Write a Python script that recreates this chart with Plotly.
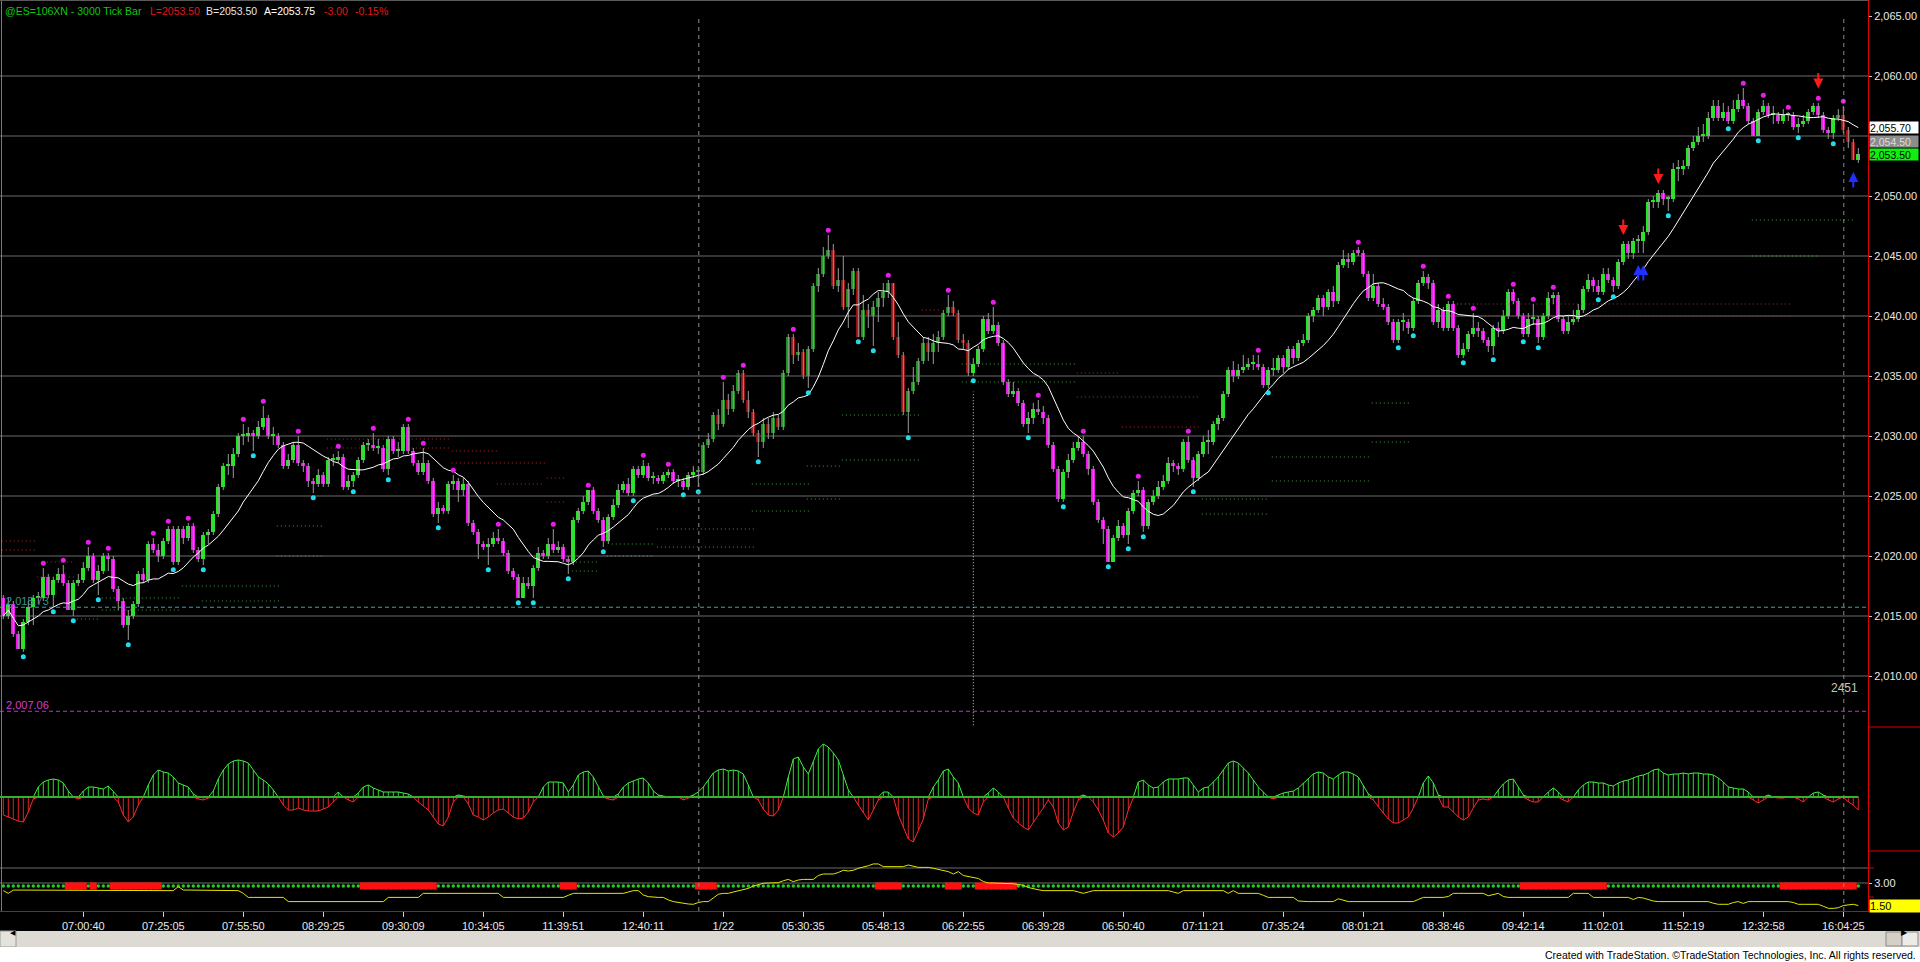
import pandas as pd
import plotly.graph_objects as go

W, H = 1920, 962
AXIS_X = 1868          # pixel column where the right price scale begins

# ---------------- price bars (3000 tick bars, oldest first) ----------------
bar_open = [
    2016.5, 2015.0, 2016.0, 2013.5, 2012.25, 2014.5, 2015.75, 2016.5, 2016.5, 2018.25,
    2016.75, 2018.0, 2018.5, 2017.75, 2015.5, 2017.75, 2018.0, 2019.0, 2020.0, 2018.0,
    2018.75, 2020.0, 2019.75, 2017.25, 2016.25, 2014.25, 2015.0, 2016.0, 2018.5, 2018.0,
    2021.0, 2020.5, 2020.0, 2021.25, 2022.25, 2019.5, 2022.25, 2021.5, 2022.5, 2020.5,
    2019.75, 2021.75, 2022.0, 2023.5, 2025.75, 2027.5, 2027.5, 2028.5, 2030.0, 2030.0,
    2030.25, 2030.0, 2030.75, 2031.5, 2030.0, 2030.0, 2029.25, 2027.5, 2028.0, 2029.25,
    2027.75, 2027.5, 2026.25, 2026.0, 2026.75, 2026.0, 2028.0, 2028.0, 2028.25, 2025.75,
    2026.25, 2026.75, 2028.0, 2029.25, 2029.25, 2029.0, 2029.0, 2027.25, 2029.75, 2028.75,
    2028.75, 2030.75, 2028.75, 2027.75, 2027.0, 2027.75, 2026.25, 2023.5, 2024.0, 2023.75,
    2026.0, 2026.25, 2025.5, 2026.0, 2022.75, 2022.0, 2021.0, 2020.75, 2021.0, 2021.5,
    2021.25, 2020.25, 2018.75, 2018.25, 2016.5, 2017.75, 2017.5, 2019.0, 2020.25, 2020.0,
    2021.0, 2020.5, 2020.75, 2019.75, 2019.5, 2023.0, 2023.75, 2024.5, 2025.5, 2023.75,
    2023.0, 2021.25, 2023.25, 2024.25, 2025.5, 2026.0, 2025.25, 2027.25, 2026.75, 2027.5,
    2026.5, 2026.5, 2026.25, 2026.75, 2027.0, 2026.25, 2026.25, 2025.75, 2026.75, 2027.0,
    2027.0, 2029.25, 2029.75, 2031.75, 2031.0, 2033.0, 2032.25, 2033.75, 2035.25, 2033.0,
    2032.0, 2030.25, 2029.5, 2031.0, 2030.25, 2031.5, 2030.75, 2035.25, 2038.25, 2036.75,
    2037.0, 2035.0, 2037.25, 2042.5, 2043.5, 2045.0, 2045.5, 2042.5, 2043.0, 2040.75,
    2042.25, 2043.75, 2038.25, 2040.5, 2040.0, 2040.75, 2041.5, 2042.0, 2042.75, 2038.25,
    2036.75, 2032.0, 2033.75, 2034.5, 2036.25, 2037.75, 2037.0, 2037.75, 2038.25, 2040.25,
    2040.75, 2040.25, 2038.0, 2037.75, 2035.25, 2036.0, 2037.25, 2039.75, 2038.75, 2039.25,
    2037.75, 2034.5, 2033.5, 2033.75, 2032.75, 2031.0, 2031.5, 2032.25, 2032.0, 2031.5,
    2029.25, 2027.25, 2024.75, 2027.0, 2028.0, 2029.0, 2029.5, 2028.5, 2027.25, 2024.5,
    2023.0, 2022.25, 2019.5, 2021.5, 2022.5, 2021.75, 2023.75, 2025.25, 2025.5, 2022.5,
    2024.5, 2025.0, 2025.75, 2026.25, 2027.75, 2027.5, 2027.25, 2029.5, 2028.0, 2026.5,
    2028.5, 2029.5, 2029.5, 2031.0, 2031.5, 2033.5, 2035.5, 2035.0, 2035.5, 2035.75,
    2036.0, 2036.0, 2035.75, 2034.25, 2035.5, 2035.5, 2036.5, 2035.75, 2037.25, 2036.5,
    2037.75, 2038.0, 2040.0, 2040.5, 2041.5, 2040.75, 2042.0, 2041.25, 2044.25, 2044.75,
    2044.5, 2045.5, 2045.25, 2043.5, 2041.5, 2042.5, 2041.0, 2040.75, 2039.5, 2038.0,
    2039.5, 2039.5, 2039.0, 2041.25, 2042.75, 2043.25, 2042.75, 2039.5, 2040.5, 2039.0,
    2041.0, 2039.0, 2036.75, 2037.25, 2038.5, 2039.0, 2038.75, 2038.0, 2037.5, 2039.0,
    2038.75, 2040.0, 2042.0, 2041.25, 2040.0, 2038.5, 2039.75, 2039.75, 2038.25, 2040.0,
    2041.5, 2041.75, 2039.75, 2038.75, 2039.5, 2039.75, 2040.5, 2042.25, 2043.0, 2042.5,
    2042.0, 2043.5, 2043.0, 2042.5, 2044.5, 2046.0, 2045.25, 2046.25, 2046.25, 2047.0,
    2049.5, 2049.5, 2050.25, 2049.75, 2049.75, 2052.25, 2052.25, 2052.5, 2054.0, 2054.5,
    2055.0, 2055.0, 2056.5, 2057.5, 2056.5, 2057.0, 2056.25, 2057.25, 2058.0, 2057.5,
    2056.25, 2055.0, 2057.0, 2057.5, 2056.75, 2056.75, 2056.25, 2056.75, 2056.75, 2055.75,
    2056.0, 2056.25, 2057.0, 2057.5, 2056.75, 2055.5, 2055.25, 2056.5, 2056.75, 2055.5,
    2054.5, 2053.0,
]
bar_close = [
    2015.0, 2016.0, 2013.5, 2012.25, 2014.5, 2015.75, 2016.5, 2016.5, 2018.25, 2016.75,
    2018.0, 2018.5, 2017.75, 2015.5, 2017.75, 2018.0, 2019.0, 2020.0, 2018.0, 2018.75,
    2020.0, 2019.75, 2017.25, 2016.25, 2014.25, 2015.0, 2016.0, 2018.5, 2018.0, 2021.0,
    2020.5, 2020.0, 2021.25, 2022.25, 2019.5, 2022.25, 2021.5, 2022.5, 2020.5, 2019.75,
    2021.75, 2022.0, 2023.5, 2025.75, 2027.5, 2027.5, 2028.5, 2030.0, 2030.0, 2030.25,
    2030.0, 2030.75, 2031.5, 2030.0, 2030.0, 2029.25, 2027.5, 2028.0, 2029.25, 2027.75,
    2027.5, 2026.25, 2026.0, 2026.75, 2026.0, 2028.0, 2028.0, 2028.25, 2025.75, 2026.25,
    2026.75, 2028.0, 2029.25, 2029.25, 2029.0, 2029.0, 2027.25, 2029.75, 2028.75, 2028.75,
    2030.75, 2028.75, 2027.75, 2027.0, 2027.75, 2026.25, 2023.5, 2024.0, 2023.75, 2026.0,
    2026.25, 2025.5, 2026.0, 2022.75, 2022.0, 2021.0, 2020.75, 2021.0, 2021.5, 2021.25,
    2020.25, 2018.75, 2018.25, 2016.5, 2017.75, 2017.5, 2019.0, 2020.25, 2020.0, 2021.0,
    2020.5, 2020.75, 2019.75, 2019.5, 2023.0, 2023.75, 2024.5, 2025.5, 2023.75, 2023.0,
    2021.25, 2023.25, 2024.25, 2025.5, 2026.0, 2025.25, 2027.25, 2026.75, 2027.5, 2026.5,
    2026.5, 2026.25, 2026.75, 2027.0, 2026.25, 2026.25, 2025.75, 2026.75, 2027.0, 2027.0,
    2029.25, 2029.75, 2031.75, 2031.0, 2033.0, 2032.25, 2033.75, 2035.25, 2033.0, 2032.0,
    2030.25, 2029.5, 2031.0, 2030.25, 2031.5, 2030.75, 2035.25, 2038.25, 2036.75, 2037.0,
    2035.0, 2037.25, 2042.5, 2043.5, 2045.0, 2045.5, 2042.5, 2043.0, 2040.75, 2042.25,
    2043.75, 2038.25, 2040.5, 2040.0, 2040.75, 2041.5, 2042.0, 2042.75, 2038.25, 2036.75,
    2032.0, 2033.75, 2034.5, 2036.25, 2037.75, 2037.0, 2037.75, 2038.25, 2040.25, 2040.75,
    2040.25, 2038.0, 2037.75, 2035.25, 2036.0, 2037.25, 2039.75, 2038.75, 2039.25, 2037.75,
    2034.5, 2033.5, 2033.75, 2032.75, 2031.0, 2031.5, 2032.25, 2032.0, 2031.5, 2029.25,
    2027.25, 2024.75, 2027.0, 2028.0, 2029.0, 2029.5, 2028.5, 2027.25, 2024.5, 2023.0,
    2022.25, 2019.5, 2021.5, 2022.5, 2021.75, 2023.75, 2025.25, 2025.5, 2022.5, 2024.5,
    2025.0, 2025.75, 2026.25, 2027.75, 2027.5, 2027.25, 2029.5, 2028.0, 2026.5, 2028.5,
    2029.5, 2029.5, 2031.0, 2031.5, 2033.5, 2035.5, 2035.0, 2035.5, 2035.75, 2036.0,
    2036.0, 2035.75, 2034.25, 2035.5, 2035.5, 2036.5, 2035.75, 2037.25, 2036.5, 2037.75,
    2038.0, 2040.0, 2040.5, 2041.5, 2040.75, 2042.0, 2041.25, 2044.25, 2044.75, 2044.5,
    2045.25, 2045.25, 2043.5, 2041.5, 2042.5, 2041.0, 2040.75, 2039.5, 2038.0, 2039.5,
    2039.5, 2039.0, 2041.25, 2042.75, 2043.25, 2042.75, 2039.5, 2040.5, 2039.0, 2041.0,
    2039.0, 2036.75, 2037.25, 2038.5, 2039.0, 2038.75, 2038.0, 2037.5, 2039.0, 2038.75,
    2040.0, 2042.0, 2041.25, 2040.0, 2038.5, 2039.75, 2039.75, 2038.25, 2040.0, 2041.5,
    2041.75, 2039.75, 2038.75, 2039.5, 2039.75, 2040.5, 2042.25, 2043.0, 2042.5, 2042.0,
    2043.5, 2043.0, 2042.5, 2044.5, 2046.0, 2045.25, 2046.25, 2046.25, 2047.0, 2049.5,
    2049.5, 2050.25, 2049.75, 2049.75, 2052.25, 2052.25, 2052.5, 2054.0, 2054.5, 2055.0,
    2055.0, 2056.5, 2057.5, 2056.5, 2057.0, 2056.25, 2057.25, 2058.0, 2057.5, 2056.25,
    2055.0, 2057.0, 2057.5, 2056.75, 2056.75, 2056.25, 2056.75, 2056.75, 2055.75, 2056.0,
    2056.25, 2057.0, 2057.5, 2056.75, 2055.5, 2055.25, 2056.5, 2056.75, 2055.5, 2054.5,
    2053.0, 2053.5,
]
bar_high = [
    2016.75, 2016.5, 2016.25, 2013.75, 2014.75, 2016.25, 2016.75, 2017.0, 2019.0, 2018.5,
    2018.25, 2019.0, 2019.25, 2018.0, 2018.0, 2018.5, 2019.5, 2020.75, 2020.25, 2019.25,
    2020.25, 2020.25, 2020.0, 2017.5, 2016.5, 2015.5, 2016.25, 2018.75, 2019.0, 2021.25,
    2021.5, 2021.0, 2021.5, 2022.5, 2022.5, 2022.5, 2022.5, 2022.75, 2022.75, 2020.75,
    2022.0, 2022.25, 2023.75, 2026.0, 2027.75, 2028.5, 2029.0, 2030.25, 2031.0, 2030.75,
    2030.5, 2031.25, 2032.5, 2031.75, 2030.75, 2030.25, 2029.5, 2028.5, 2029.5, 2030.0,
    2028.0, 2027.75, 2026.5, 2027.25, 2027.0, 2028.25, 2028.5, 2028.75, 2028.5, 2026.75,
    2027.0, 2028.25, 2029.5, 2029.75, 2030.25, 2029.75, 2029.25, 2030.0, 2030.0, 2029.5,
    2031.0, 2031.0, 2029.0, 2028.0, 2029.0, 2028.0, 2026.5, 2024.5, 2024.25, 2026.25,
    2026.75, 2026.5, 2026.5, 2026.25, 2023.0, 2022.25, 2021.25, 2021.5, 2022.0, 2022.25,
    2021.5, 2020.5, 2019.0, 2018.5, 2018.25, 2018.25, 2019.25, 2020.75, 2020.5, 2021.5,
    2022.25, 2021.25, 2021.0, 2020.0, 2023.25, 2024.0, 2025.0, 2025.5, 2025.75, 2024.0,
    2023.25, 2023.5, 2024.75, 2026.0, 2026.25, 2026.5, 2027.5, 2027.5, 2028.0, 2027.75,
    2027.0, 2026.75, 2027.0, 2027.25, 2027.25, 2026.75, 2026.5, 2027.0, 2027.5, 2027.5,
    2029.5, 2030.25, 2032.0, 2032.25, 2034.5, 2033.5, 2034.25, 2035.5, 2035.5, 2033.75,
    2032.25, 2030.5, 2031.5, 2031.5, 2032.0, 2031.75, 2035.5, 2038.5, 2038.5, 2037.75,
    2037.25, 2037.5, 2042.75, 2044.0, 2045.75, 2046.75, 2046.0, 2044.0, 2045.0, 2042.75,
    2044.0, 2044.0, 2041.75, 2041.0, 2041.25, 2042.0, 2042.75, 2043.0, 2042.75, 2039.5,
    2037.0, 2034.0, 2035.75, 2036.5, 2038.25, 2038.25, 2038.5, 2038.75, 2040.5, 2041.75,
    2041.25, 2040.5, 2038.5, 2038.0, 2036.5, 2037.5, 2040.0, 2040.25, 2040.75, 2039.5,
    2038.0, 2034.75, 2034.5, 2034.0, 2033.0, 2032.0, 2032.75, 2033.0, 2032.5, 2031.75,
    2029.5, 2027.5, 2027.25, 2028.5, 2029.5, 2030.0, 2030.0, 2028.75, 2027.5, 2024.75,
    2023.25, 2022.5, 2021.75, 2023.0, 2022.75, 2024.0, 2025.5, 2026.25, 2025.75, 2024.75,
    2025.5, 2026.25, 2026.75, 2028.25, 2028.0, 2027.75, 2029.75, 2030.0, 2028.25, 2028.75,
    2030.0, 2030.5, 2031.25, 2031.75, 2033.75, 2035.75, 2036.25, 2036.0, 2036.75, 2036.5,
    2036.75, 2036.75, 2036.0, 2035.75, 2036.5, 2036.75, 2036.75, 2037.5, 2037.5, 2038.0,
    2038.5, 2040.25, 2040.75, 2041.75, 2041.75, 2042.25, 2042.5, 2044.5, 2045.5, 2045.25,
    2045.5, 2045.75, 2045.5, 2043.75, 2043.5, 2042.75, 2041.5, 2041.0, 2039.75, 2039.75,
    2040.25, 2039.75, 2041.5, 2043.0, 2043.75, 2043.5, 2043.0, 2041.0, 2040.75, 2041.25,
    2041.25, 2039.25, 2037.75, 2038.75, 2040.25, 2039.5, 2039.0, 2038.25, 2039.25, 2039.5,
    2040.5, 2042.25, 2042.25, 2041.5, 2040.25, 2040.25, 2041.0, 2040.0, 2040.25, 2042.0,
    2042.0, 2042.0, 2040.0, 2040.0, 2040.5, 2041.0, 2042.5, 2043.5, 2043.25, 2043.0,
    2044.0, 2044.0, 2043.25, 2044.75, 2046.25, 2046.25, 2046.5, 2046.75, 2047.5, 2049.75,
    2050.0, 2050.5, 2050.5, 2050.0, 2052.75, 2053.0, 2053.0, 2054.25, 2055.0, 2055.75,
    2056.0, 2057.0, 2058.0, 2058.0, 2057.75, 2057.5, 2058.0, 2058.5, 2059.0, 2057.75,
    2056.5, 2057.25, 2058.0, 2057.75, 2057.5, 2057.0, 2057.25, 2057.0, 2057.0, 2056.5,
    2056.75, 2057.25, 2057.75, 2057.75, 2057.0, 2055.75, 2056.75, 2057.25, 2057.5, 2055.75,
    2054.75, 2054.0,
]
bar_low = [
    2014.75, 2014.75, 2013.25, 2012.25, 2012.0, 2014.25, 2014.25, 2016.0, 2016.25, 2016.5,
    2015.75, 2017.75, 2017.5, 2015.5, 2015.0, 2017.5, 2017.75, 2018.75, 2017.75, 2016.75,
    2018.5, 2018.75, 2017.0, 2015.5, 2014.0, 2013.0, 2014.75, 2015.75, 2017.75, 2017.75,
    2020.25, 2019.5, 2019.75, 2021.0, 2019.25, 2019.25, 2021.0, 2021.25, 2020.25, 2019.5,
    2019.25, 2021.0, 2021.75, 2023.25, 2025.5, 2026.75, 2026.5, 2028.25, 2029.25, 2029.5,
    2028.75, 2029.75, 2030.5, 2029.75, 2029.25, 2029.0, 2027.25, 2027.25, 2027.75, 2027.5,
    2027.0, 2025.75, 2025.25, 2025.75, 2025.75, 2025.75, 2027.5, 2027.75, 2025.5, 2025.5,
    2025.75, 2026.5, 2027.75, 2028.75, 2028.75, 2028.5, 2027.0, 2026.75, 2028.5, 2028.25,
    2028.5, 2028.5, 2027.5, 2026.75, 2026.75, 2026.0, 2023.25, 2022.75, 2023.5, 2023.5,
    2025.5, 2024.5, 2025.0, 2022.5, 2021.75, 2019.75, 2020.5, 2019.25, 2020.75, 2021.0,
    2020.0, 2018.5, 2018.0, 2016.5, 2016.5, 2017.25, 2016.5, 2018.75, 2019.75, 2019.75,
    2020.25, 2020.25, 2019.5, 2018.5, 2019.25, 2022.75, 2023.5, 2024.25, 2023.5, 2022.75,
    2020.75, 2021.0, 2023.0, 2024.0, 2025.25, 2025.0, 2025.0, 2026.5, 2026.5, 2026.25,
    2026.0, 2026.0, 2026.0, 2026.5, 2026.0, 2025.75, 2025.5, 2025.5, 2026.5, 2025.75,
    2026.75, 2029.0, 2029.5, 2030.5, 2030.75, 2031.75, 2032.0, 2033.5, 2032.75, 2031.5,
    2030.0, 2028.25, 2029.0, 2029.75, 2029.75, 2030.5, 2030.5, 2035.0, 2036.0, 2036.25,
    2034.75, 2034.0, 2037.0, 2042.0, 2043.25, 2044.75, 2042.25, 2042.0, 2040.5, 2039.0,
    2041.75, 2038.25, 2038.0, 2039.0, 2037.5, 2039.5, 2040.75, 2041.5, 2038.0, 2036.5,
    2031.75, 2030.25, 2033.5, 2034.25, 2036.0, 2036.25, 2036.0, 2037.0, 2038.0, 2040.0,
    2040.0, 2037.75, 2037.25, 2035.0, 2035.0, 2035.75, 2037.0, 2038.5, 2038.5, 2037.5,
    2034.25, 2033.25, 2033.25, 2032.5, 2030.75, 2030.25, 2031.0, 2031.75, 2031.0, 2029.0,
    2027.0, 2024.5, 2024.5, 2026.5, 2027.75, 2028.75, 2028.25, 2026.75, 2024.25, 2022.75,
    2021.0, 2019.5, 2019.5, 2021.25, 2021.5, 2021.0, 2023.5, 2025.0, 2022.0, 2022.25,
    2024.25, 2024.75, 2025.5, 2026.0, 2027.0, 2026.75, 2027.0, 2027.75, 2025.75, 2026.25,
    2028.25, 2028.5, 2029.25, 2030.5, 2031.25, 2033.25, 2034.5, 2034.75, 2035.25, 2035.5,
    2035.5, 2035.5, 2034.0, 2034.0, 2035.0, 2035.25, 2035.25, 2035.5, 2036.0, 2036.25,
    2037.5, 2037.75, 2039.5, 2040.25, 2040.0, 2040.5, 2040.75, 2041.0, 2044.0, 2044.0,
    2044.25, 2045.0, 2043.25, 2041.25, 2041.25, 2040.75, 2040.5, 2039.25, 2037.75, 2037.75,
    2038.75, 2038.5, 2038.75, 2041.0, 2042.5, 2042.25, 2039.25, 2039.0, 2038.75, 2038.75,
    2038.75, 2036.5, 2036.5, 2037.0, 2038.25, 2038.25, 2037.75, 2037.0, 2036.75, 2038.25,
    2038.5, 2039.75, 2041.0, 2039.75, 2038.25, 2038.25, 2039.25, 2037.75, 2038.0, 2039.75,
    2041.0, 2039.5, 2038.5, 2038.5, 2039.25, 2039.5, 2040.25, 2042.0, 2042.0, 2041.75,
    2041.75, 2042.75, 2042.0, 2042.25, 2044.25, 2044.75, 2044.75, 2045.25, 2045.25, 2046.75,
    2049.0, 2049.0, 2049.25, 2048.75, 2049.5, 2051.25, 2051.75, 2052.25, 2053.75, 2054.25,
    2054.5, 2054.75, 2056.25, 2056.25, 2056.25, 2056.0, 2056.0, 2057.0, 2057.25, 2056.0,
    2055.0, 2055.0, 2056.75, 2056.5, 2056.0, 2056.0, 2056.0, 2056.25, 2055.5, 2055.25,
    2055.75, 2056.0, 2056.75, 2056.5, 2055.25, 2054.75, 2054.75, 2056.25, 2055.25, 2054.0,
    2053.0, 2052.75,
]

# bars drawn in the darker palette (pre-market sessions)
dark_ranges = [(139, 193), (367, 370)]

# swing markers, signal arrows
swing_high_bars = [8, 12, 17, 21, 30, 33, 37, 48, 52, 59, 67, 74, 81, 84, 90, 99, 110, 117,
                   128, 133, 144, 148, 158, 165, 177, 189, 198, 207, 216, 227, 237, 251, 271,
                   284, 289, 294, 302, 306, 310, 348, 352, 357, 363, 368]
swing_low_bars = [4, 10, 14, 19, 25, 34, 40, 50, 62, 70, 77, 87, 97, 103, 106, 113, 120, 126,
                  136, 139, 151, 161, 171, 174, 181, 194, 205, 212, 221, 225, 228, 238, 253,
                  279, 282, 292, 298, 304, 307, 319, 322, 333, 345, 351, 359, 366]
sell_arrow_bars = [324, 331, 363]
buy_arrow_bars = [327, 328, 370]

# dotted support / resistance segments: (first bar, last bar, price)
red_from = [0, 0, 9, 7, 65, 65, 82, 82, 90, 90, 99, 109, 109, 184, 215, 215, 224, 295, 295]
red_to = [6, 6, 14, 14, 79, 79, 89, 89, 99, 108, 108, 112, 112, 187, 223, 239, 239, 357, 357]
red_price = [2021.25, 2020.5, 2019.5, 2018.25, 2029.75, 2029.0, 2029.75, 2029.0, 2028.75,
             2027.75, 2026.0, 2026.5, 2024.5, 2040.5, 2035.25, 2033.25, 2030.75, 2041.0, 2040.0]
green_from = [15, 20, 20, 36, 40, 55, 55, 114, 114, 122, 121, 131, 131, 150, 150, 161, 161,
              168, 168, 192, 192, 240, 240, 254, 254, 274, 274, 291, 350, 350]
green_to = [19, 35, 35, 55, 55, 64, 64, 119, 119, 130, 130, 150, 150, 161, 161, 167, 167,
            183, 183, 214, 214, 253, 253, 273, 273, 281, 281, 294, 370, 363]
green_price = [2014.75, 2016.5, 2015.5, 2017.5, 2016.25, 2022.5, 2020.0, 2019.5, 2018.75,
               2021.0, 2020.0, 2022.25, 2020.75, 2026.0, 2023.75, 2027.5, 2024.75, 2031.75,
               2028.0, 2036.0, 2034.5, 2024.75, 2023.5, 2028.25, 2026.25, 2032.75, 2029.5,
               2041.0, 2048.0, 2045.0]

cyan_level = 2015.73
magenta_level = 2007.06
session_break_bars = [139.1, 368.1]
open_marker_bar = 194

# ---------------- oscillator pane ----------------
osc = [
    -18, -20, -22, -24, -25, -15, -2, 10, 15, 17,
    18, 17, 14, 6, 0, -2, 6, 10, 10, 9,
    8, 11, 5, -5, -18, -25, -20, -8, 0, 12,
    22, 27, 25, 24, 20, 14, 12, 10, 3, -2,
    -3, -1, 6, 18, 27, 33, 36, 37, 36, 34,
    27, 20, 17, 13, 7, 0, -8, -13, -13, -11,
    -13, -14, -14, -14, -12, -10, -5, 5, 0, -3,
    -5, 4, 10, 12, 9, 7, 5, 5, 5, 5,
    4, 3, 0, -5, -9, -13, -20, -27, -29, -20,
    -5, 2, 1, -7, -18, -20, -23, -20, -16, -13,
    -12, -16, -20, -22, -21, -15, -5, 0, 10, 15,
    15, 15, 14, 5, 12, 22, 25, 26, 20, 10,
    1, -2, -3, 3, 10, 14, 16, 18, 19, 14,
    6, 2, 1, 0, 0, 0, -3, -1, 2, 5,
    10, 17, 24, 27, 28, 26, 27, 26, 23, 12,
    0, -3, -12, -18, -19, -13, 0, 20, 38, 40,
    30, 23, 35, 48, 53, 50, 44, 37, 22, 7,
    0, -8, -16, -23, -13, -3, 5, 5, 0, -18,
    -30, -42, -45, -33, -22, -2, 10, 17, 26, 28,
    20, 14, 0, -11, -16, -18, -5, 4, 9, 5,
    0, -11, -21, -26, -30, -33, -25, -18, -11, -3,
    -10, -26, -33, -30, -15, -3, 2, 0, -5, -13,
    -23, -36, -40, -36, -30, -13, -1, 15, 17, 12,
    9, 10, 15, 18, 18, 18, 19, 19, 12, 5,
    9, 10, 15, 20, 27, 34, 36, 34, 29, 24,
    17, 10, 5, 0, -2, 2, 4, 5, 6, 9,
    14, 19, 23, 25, 24, 20, 18, 22, 25, 25,
    23, 20, 12, 3, -3, -10, -16, -22, -26, -26,
    -23, -20, -11, 0, 14, 21, 14, 2, -10, -10,
    -15, -20, -23, -20, -11, -3, -2, -3, 0, 7,
    13, 17, 18, 10, 2, -3, -5, -5, 0, 5,
    9, 5, -3, -5, 0, 7, 12, 15, 15, 14,
    14, 12, 11, 14, 16, 17, 19, 21, 22, 24,
    27, 28, 24, 22, 23, 23, 24, 23, 24, 24,
    23, 23, 22, 19, 15, 10, 9, 8, 8, 5,
    -3, -6, -3, 2, 0, -1, -1, 0, 0, -2,
    -5, 0, 4, 5, 2, -3, -5, -2, 0, -5,
    -8, -13,
]

# ---------------- lower pane ----------------
vol_ratio = [
    2.49, 2.31, 2.53, 2.53, 2.53, 2.53, 2.53, 2.53, 2.53, 2.53,
    2.53, 2.53, 2.53, 2.53, 2.53, 2.53, 2.53, 2.53, 2.53, 2.53,
    2.53, 2.53, 2.53, 2.53, 2.49, 2.49, 2.49, 2.49, 2.49, 2.49,
    2.49, 2.49, 2.49, 2.49, 2.49, 2.76, 2.53, 2.53, 2.53, 2.53,
    2.53, 2.53, 2.53, 2.53, 2.53, 2.53, 2.53, 2.49, 2.31, 2.04,
    2.04, 2.04, 2.04, 2.04, 2.04, 2.04, 2.04, 1.76, 1.76, 1.76,
    1.76, 1.76, 1.76, 1.76, 1.76, 1.76, 1.76, 1.76, 1.76, 1.76,
    1.76, 1.76, 1.76, 1.76, 1.76, 1.76, 1.76, 2.04, 2.04, 2.04,
    2.04, 2.04, 2.04, 2.04, 2.31, 2.31, 2.31, 2.31, 2.31, 2.31,
    2.31, 2.31, 2.31, 2.31, 2.31, 2.31, 2.31, 2.31, 2.31, 2.31,
    2.04, 2.04, 2.04, 2.04, 2.04, 2.04, 2.04, 2.04, 2.04, 2.04,
    2.04, 2.04, 2.04, 2.18, 2.31, 2.31, 2.31, 2.31, 2.31, 2.31,
    2.31, 2.31, 2.31, 2.31, 2.31, 2.40, 2.49, 2.49, 2.20, 2.09,
    2.04, 2.04, 2.04, 1.87, 1.76, 1.70, 1.64, 1.60, 1.58, 1.70,
    1.76, 1.76, 2.00, 2.25, 2.31, 2.31, 2.40, 2.49, 2.55, 2.64,
    2.80, 2.90, 2.98, 3.00, 3.00, 3.02, 3.15, 3.24, 3.09, 3.20,
    3.24, 3.24, 3.24, 3.50, 3.60, 3.60, 3.60, 3.70, 3.85, 3.80,
    3.85, 3.98, 4.05, 4.15, 4.27, 4.27, 4.09, 4.09, 4.09, 4.09,
    4.09, 4.20, 4.10, 4.04, 4.04, 4.04, 3.98, 3.90, 3.80, 3.76,
    3.60, 3.76, 3.50, 3.45, 3.35, 3.30, 3.10, 3.00, 3.00, 3.00,
    3.00, 2.95, 2.95, 2.90, 2.85, 2.70, 2.60, 2.55, 2.49, 2.49,
    2.49, 2.49, 2.49, 2.49, 2.49, 2.40, 2.31, 2.40, 2.49, 2.49,
    2.49, 2.49, 2.49, 2.49, 2.49, 2.49, 2.49, 2.49, 2.49, 2.49,
    2.49, 2.49, 2.49, 2.49, 2.40, 2.31, 2.49, 2.49, 2.49, 2.49,
    2.49, 2.49, 2.49, 2.49, 2.49, 2.31, 2.49, 2.31, 2.31, 2.31,
    2.31, 2.31, 2.18, 2.04, 2.04, 2.04, 2.04, 2.04, 2.04, 1.80,
    1.76, 1.76, 1.76, 1.76, 1.76, 1.76, 1.76, 1.95, 1.85, 1.76,
    1.76, 1.76, 1.76, 1.76, 1.76, 1.76, 1.76, 1.76, 1.76, 1.76,
    1.76, 1.76, 1.76, 1.90, 2.04, 2.04, 2.04, 2.04, 2.04, 2.10,
    2.31, 2.31, 2.31, 2.31, 2.31, 2.31, 2.31, 2.15, 2.25, 2.31,
    2.10, 2.04, 2.04, 2.04, 2.04, 2.04, 2.04, 2.04, 2.04, 2.04,
    2.04, 2.04, 2.04, 2.04, 2.31, 2.31, 2.31, 2.31, 2.04, 2.04,
    2.04, 2.04, 2.04, 2.04, 2.04, 2.04, 1.90, 2.04, 2.00, 1.90,
    1.80, 1.76, 1.76, 1.76, 1.76, 1.76, 1.76, 1.76, 1.76, 1.76,
    1.76, 1.76, 1.65, 1.58, 1.58, 1.58, 1.70, 1.76, 1.64, 1.76,
    1.76, 1.76, 1.76, 1.76, 1.76, 1.76, 1.76, 1.76, 1.70, 1.58,
    1.58, 1.58, 1.58, 1.58, 1.45, 1.31, 1.31, 1.35, 1.50, 1.55,
    1.58, 1.50,
]
squeeze_ranges = [(13, 16), (18, 18), (22, 31), (72, 86), (112, 114), (139, 142),
                  (175, 179), (189, 191), (195, 202), (304, 320), (356, 370)]
dot_row_level = 2.8

# ---------------- axis labels ----------------
time_tick_bars = [16, 32, 48, 64, 80, 96, 112, 128, 144, 160, 176, 192, 208, 224, 240,
                  256, 272, 288, 304, 320, 336, 352, 368]
time_tick_labels = ["07:00:40", "07:25:05", "07:55:50", "08:29:25", "09:30:09", "10:34:05",
                    "11:39:51", "12:40:11", "1/22", "05:30:35", "05:48:13", "06:22:55",
                    "06:39:28", "06:50:40", "07:11:21", "07:35:24", "08:01:21", "08:38:46",
                    "09:42:14", "11:02:01", "11:52:19", "12:32:58", "16:04:25"]
# 2,055.00 is hidden behind the last-value tags on the scale
price_ticks = [2010, 2015, 2020, 2025, 2030, 2035, 2040, 2045, 2050, 2060, 2065]
grid_prices = [2010, 2015, 2020, 2025, 2030, 2035, 2040, 2045, 2050, 2055, 2060]

# ======================================================================
n = min(len(bar_open), len(bar_close), len(bar_high), len(bar_low))
bars = list(range(n))
FONT = "Liberation Sans, Arial, sans-serif"


def pxx(x):
    return x / W


def pxy(y):
    return 1 - y / H


dark = set()
for a, b in dark_ranges:
    dark.update(range(a, b + 1))

body_color = []
for i in bars:
    up = bar_close[i] >= bar_open[i]
    if i in dark:
        body_color.append('#1d8f1d' if up else '#940c0c')
    else:
        body_color.append('#1ee81e' if up else '#f014f0')
body_base = [min(bar_open[i], bar_close[i]) for i in bars]
body_size = [max(abs(bar_close[i] - bar_open[i]), 0.1) for i in bars]

wick_x, wick_y = [], []
for i in bars:
    wick_x += [i, i, None]
    wick_y += [bar_low[i], bar_high[i], None]

# the chart's 14-bar average of the closes
ma = pd.Series(bar_close[:n]).rolling(14, min_periods=1).mean()

fig = go.Figure()


# dotted levels
def level_trace(starts, ends, prices, color):
    xs, ys = [], []
    for a, b, p in zip(starts, ends, prices):
        xs += [a - 0.3, b + 0.3, None]
        ys += [p, p, None]
    return go.Scatter(x=xs, y=ys, mode='lines', yaxis='y',
                      line=dict(color=color, width=1, dash='1px,3px'), hoverinfo='skip')


fig.add_trace(level_trace(red_from, red_to, red_price, '#c02828'))
fig.add_trace(level_trace(green_from, green_to, green_price, '#38a838'))

xr = [-0.66, n + 0.94]
fig.add_trace(go.Scatter(x=xr, y=[cyan_level] * 2, mode='lines', yaxis='y',
                         line=dict(color='#3aa6a6', width=1, dash='4px,3px')))
fig.add_trace(go.Scatter(x=xr, y=[magenta_level] * 2, mode='lines', yaxis='y',
                         line=dict(color='#c830c8', width=1, dash='4px,3px')))

# candles: wicks then bodies
fig.add_trace(go.Scatter(x=wick_x, y=wick_y, mode='lines', yaxis='y',
                         line=dict(color='#9a9a9a', width=1), hoverinfo='skip'))
fig.add_trace(go.Bar(x=bars, y=body_size, base=body_base, width=0.8, yaxis='y',
                     marker=dict(color=body_color, line=dict(width=0))))

fig.add_trace(go.Scatter(x=bars, y=ma, mode='lines', yaxis='y',
                         line=dict(color='#ffffff', width=1)))

fig.add_trace(go.Scatter(x=swing_high_bars, y=[bar_high[i] + 0.4 for i in swing_high_bars],
                         mode='markers', yaxis='y',
                         marker=dict(color='#e81ee8', size=5)))
fig.add_trace(go.Scatter(x=swing_low_bars, y=[bar_low[i] - 0.4 for i in swing_low_bars],
                         mode='markers', yaxis='y',
                         marker=dict(color='#22dcec', size=5)))

# oscillator
hg_x, hg_y, hr_x, hr_y = [], [], [], []
for i, v in enumerate(osc):
    if v >= 0:
        hg_x += [i, i, None]
        hg_y += [0, v, None]
    else:
        hr_x += [i, i, None]
        hr_y += [0, v, None]
fig.add_trace(go.Scatter(x=hg_x, y=hg_y, mode='lines', yaxis='y2',
                         line=dict(color='#30d830', width=1)))
fig.add_trace(go.Scatter(x=hr_x, y=hr_y, mode='lines', yaxis='y2',
                         line=dict(color='#e02020', width=1)))
osc_x = list(range(len(osc)))
fig.add_trace(go.Scatter(x=osc_x, y=[min(v, 0) for v in osc], mode='lines', yaxis='y2',
                         line=dict(color='#ff2a2a', width=1)))
fig.add_trace(go.Scatter(x=osc_x, y=[max(v, 0) for v in osc], mode='lines', yaxis='y2',
                         line=dict(color='#44ee44', width=1)))
fig.add_trace(go.Scatter(x=[-0.66, len(osc) - 1], y=[0, 0], mode='lines', yaxis='y2',
                         line=dict(color='#34b034', width=2)))

# lower pane
squeeze = [False] * n
for a, b in squeeze_ranges:
    for i in range(a, b + 1):
        if i < n:
            squeeze[i] = True
fig.add_trace(go.Scatter(x=[i for i in bars if not squeeze[i]],
                         y=[dot_row_level] * (n - sum(squeeze)), mode='markers', yaxis='y3',
                         marker=dict(color='#22cc22', size=3.5)))
fig.add_trace(go.Scatter(x=[i for i in bars if squeeze[i]],
                         y=[dot_row_level] * sum(squeeze), mode='markers', yaxis='y3',
                         marker=dict(color='#ff1010', size=7, symbol='square')))
fig.add_trace(go.Scatter(x=list(range(len(vol_ratio))), y=vol_ratio, mode='lines',
                         yaxis='y3', line=dict(color='#e6e600', width=1)))

# ---------------- shapes ----------------
shapes = []
xd1 = AXIS_X / W
for p in grid_prices:
    shapes.append(dict(type='line', xref='paper', yref='y', x0=0, x1=xd1, y0=p, y1=p,
                       line=dict(color='#6c6c6c', width=1), layer='below'))
for v in [4.0, 3.0]:
    shapes.append(dict(type='line', xref='paper', yref='y3', x0=0, x1=xd1, y0=v, y1=v,
                       line=dict(color='#6c6c6c', width=1), layer='below'))
for b in session_break_bars:
    shapes.append(dict(type='line', xref='x', yref='paper', x0=b, x1=b,
                       y0=pxy(911), y1=pxy(15),
                       line=dict(color='#8c8c8c', width=1, dash='4px,4px')))
shapes.append(dict(type='line', xref='x', yref='y', x0=open_marker_bar, x1=open_marker_bar,
                   y0=2005.9, y1=bar_low[open_marker_bar] - 1.3,
                   line=dict(color='#d8d890', width=1, dash='1px,2px')))
# frame and pane separators on the scale
shapes.append(dict(type='line', xref='paper', yref='paper', x0=pxx(1.5), x1=pxx(1.5),
                   y0=pxy(911), y1=1, line=dict(color='#7a7a7a', width=1)))
shapes.append(dict(type='line', xref='paper', yref='paper', x0=0, x1=xd1,
                   y0=pxy(0.5), y1=pxy(0.5), line=dict(color='#5a5a5a', width=1)))
for yy in [727, 851]:
    shapes.append(dict(type='line', xref='paper', yref='paper', x0=xd1, x1=1,
                       y0=pxy(yy), y1=pxy(yy), line=dict(color='#e00000', width=1)))
for yy in [868, 897]:
    shapes.append(dict(type='line', xref='paper', yref='paper', x0=xd1, x1=pxx(AXIS_X + 6),
                       y0=pxy(yy), y1=pxy(yy), line=dict(color='#e00000', width=1)))
# scrollbar + footer strip
shapes.append(dict(type='rect', xref='paper', yref='paper', x0=0, x1=1,
                   y0=pxy(947), y1=pxy(931), fillcolor='#dcdad2', line=dict(width=0)))
shapes.append(dict(type='rect', xref='paper', yref='paper', x0=pxx(0), x1=pxx(16),
                   y0=pxy(947), y1=pxy(931), fillcolor='#e4e2dc',
                   line=dict(color='#9a9a9a', width=1)))
shapes.append(dict(type='rect', xref='paper', yref='paper', x0=pxx(1886), x1=pxx(1902),
                   y0=pxy(946), y1=pxy(932), fillcolor='#d4d0c8',
                   line=dict(color='#8a8a8a', width=1)))
shapes.append(dict(type='rect', xref='paper', yref='paper', x0=pxx(1902), x1=pxx(1918),
                   y0=pxy(946), y1=pxy(932), fillcolor='#ecebe6',
                   line=dict(color='#8a8a8a', width=1)))
shapes.append(dict(type='rect', xref='paper', yref='paper', x0=0, x1=1,
                   y0=0, y1=pxy(947), fillcolor='#ffffff', line=dict(width=0)))

# ---------------- annotations ----------------
ann = []
title_parts = [(3, "@ES=106XN - 3000 Tick Bar", '#10c810'),
               (148, "L=2053.50", '#e01818'),
               (204, "B=2053.50", '#e6e6e6'),
               (262, "A=2053.75", '#ffffff'),
               (322, "-3.00", '#e01818'),
               (353, "-0.15%", '#e01818')]
for x0, txt, col in title_parts:
    ann.append(dict(xref='paper', yref='paper', x=pxx(x0), y=pxy(10.5), text=txt,
                    showarrow=False, xanchor='left', yanchor='middle',
                    font=dict(family=FONT, size=10.5, color=col)))

# last-value tags on the price scale, stacked one tag-height apart like the platform does
last_close = bar_close[n - 1]
prev_open = bar_open[n - 2]
ma_last = float(ma.iloc[-1])
tag_step = 13 / 12.0                       # 13 px expressed in price units (12 px per point)
gray_pos = max(prev_open, last_close + tag_step)
white_pos = max(ma_last, gray_pos + tag_step)
tag_rows = [(last_close, last_close, '#10f010', '#000000'),
            (prev_open, gray_pos, '#8c8c8c', '#dcdcdc'),
            (ma_last, white_pos, '#ffffff', '#000000')]
for val, pos, bg, fg in tag_rows:
    ann.append(dict(xref='paper', yref='y', x=pxx(AXIS_X + 1), y=pos,
                    text=f"{val:,.2f}", showarrow=False, xanchor='left', yanchor='middle',
                    bgcolor=bg, width=48, height=11, align='left', borderpad=0,
                    font=dict(family=FONT, size=10.5, color=fg)))
ann.append(dict(xref='paper', yref='y3', x=pxx(AXIS_X + 1), y=vol_ratio[-1],
                text=f"{vol_ratio[-1]:.2f}", showarrow=False, xanchor='left',
                yanchor='middle', bgcolor='#ffff00', width=50, height=12, align='left',
                borderpad=0, font=dict(family=FONT, size=11, color='#000000')))
ann.append(dict(xref='paper', yref='y', x=pxx(1860), y=2009.0, text="2451",
                showarrow=False, xanchor='right', yanchor='middle',
                font=dict(family=FONT, size=12, color='#c4c4c4')))
ann.append(dict(xref='paper', yref='y', x=pxx(4), y=cyan_level + 0.55,
                text=f"{cyan_level:,.2f}", showarrow=False, xanchor='left',
                yanchor='middle', font=dict(family=FONT, size=11, color='#3a9090')))
ann.append(dict(xref='paper', yref='y', x=pxx(4), y=magenta_level + 0.55,
                text=f"{magenta_level:,.2f}", showarrow=False, xanchor='left',
                yanchor='middle', font=dict(family=FONT, size=11, color='#d040d0')))
ann.append(dict(xref='paper', yref='paper', x=pxx(1918), y=pxy(955),
                text="Created with TradeStation. ©TradeStation Technologies, Inc. All rights reserved.",
                showarrow=False, xanchor='right', yanchor='middle',
                font=dict(family=FONT, size=10.5, color='#000000')))
ann.append(dict(xref='paper', yref='paper', x=pxx(8), y=pxy(939), text="◀",
                showarrow=False, font=dict(family="DejaVu Sans", size=7, color='#000000')))
ann.append(dict(xref='paper', yref='paper', x=pxx(1910), y=pxy(939), text="▶",
                showarrow=False, font=dict(family="DejaVu Sans", size=8, color='#000000')))

high_dots = set(swing_high_bars)
for i in sell_arrow_bars:
    tip = bar_high[i] + (1.2 if i in high_dots else 0.5)
    ann.append(dict(xref='x', yref='y', x=i, y=tip, ax=0, ay=-17, axref='pixel',
                    ayref='pixel', text='', showarrow=True, arrowhead=2, arrowsize=1,
                    arrowwidth=2, arrowcolor='#ff1a1a'))
for i in buy_arrow_bars:
    tip = bar_low[i] - 1.0
    ann.append(dict(xref='x', yref='y', x=i, y=tip, ax=0, ay=17, axref='pixel',
                    ayref='pixel', text='', showarrow=True, arrowhead=2, arrowsize=1,
                    arrowwidth=2, arrowcolor='#2030ff'))

# ---------------- layout ----------------
price_top = 2065 + 16 / 12
price_bottom = 2065 - (727 - 16) / 12
fig.update_layout(
    width=W, height=H,
    margin=dict(l=0, r=0, t=0, b=0),
    paper_bgcolor='#000000', plot_bgcolor='#000000',
    showlegend=False, hovermode=False, bargap=0,
    font=dict(family=FONT, color='#e6e6e6'),
    xaxis=dict(domain=[0, xd1], range=xr, anchor='y3', showgrid=False, zeroline=False,
               tickmode='array', tickvals=time_tick_bars, ticktext=time_tick_labels,
               ticks='outside', ticklen=5, tickcolor='#d0d0d0',
               tickfont=dict(family=FONT, size=11, color='#e8e8e8'),
               showline=True, linecolor='#e00000', linewidth=1, fixedrange=True),
    yaxis=dict(domain=[pxy(727), 1], range=[price_bottom, price_top], side='right',
               anchor='x', tickmode='array', tickvals=price_ticks, tickformat=',.2f',
               ticks='outside', ticklen=3, tickcolor='#c8c8c8',
               tickfont=dict(family=FONT, size=11, color='#e8e8e8'),
               showgrid=False, zeroline=False, showline=True, linecolor='#e00000',
               linewidth=1, fixedrange=True),
    yaxis2=dict(domain=[pxy(851), pxy(727)], range=[-54, 70], side='right', anchor='x',
                showticklabels=False, ticks='', showgrid=False, zeroline=False,
                showline=True, linecolor='#e00000', linewidth=1, fixedrange=True),
    yaxis3=dict(domain=[pxy(911), pxy(851)], range=[1.1333, 5.1333], side='right',
                anchor='x', tickmode='array', tickvals=[3.0], tickformat='.2f',
                ticks='outside', ticklen=3, tickcolor='#c8c8c8',
                tickfont=dict(family=FONT, size=11, color='#e8e8e8'),
                showgrid=False, zeroline=False, showline=True, linecolor='#e00000',
                linewidth=1, fixedrange=True),
    shapes=shapes,
    annotations=ann,
)

fig.write_html("out.html", config={'displayModeBar': False},
               post_script="document.body.style.margin='0';document.body.style.overflow='hidden';")
